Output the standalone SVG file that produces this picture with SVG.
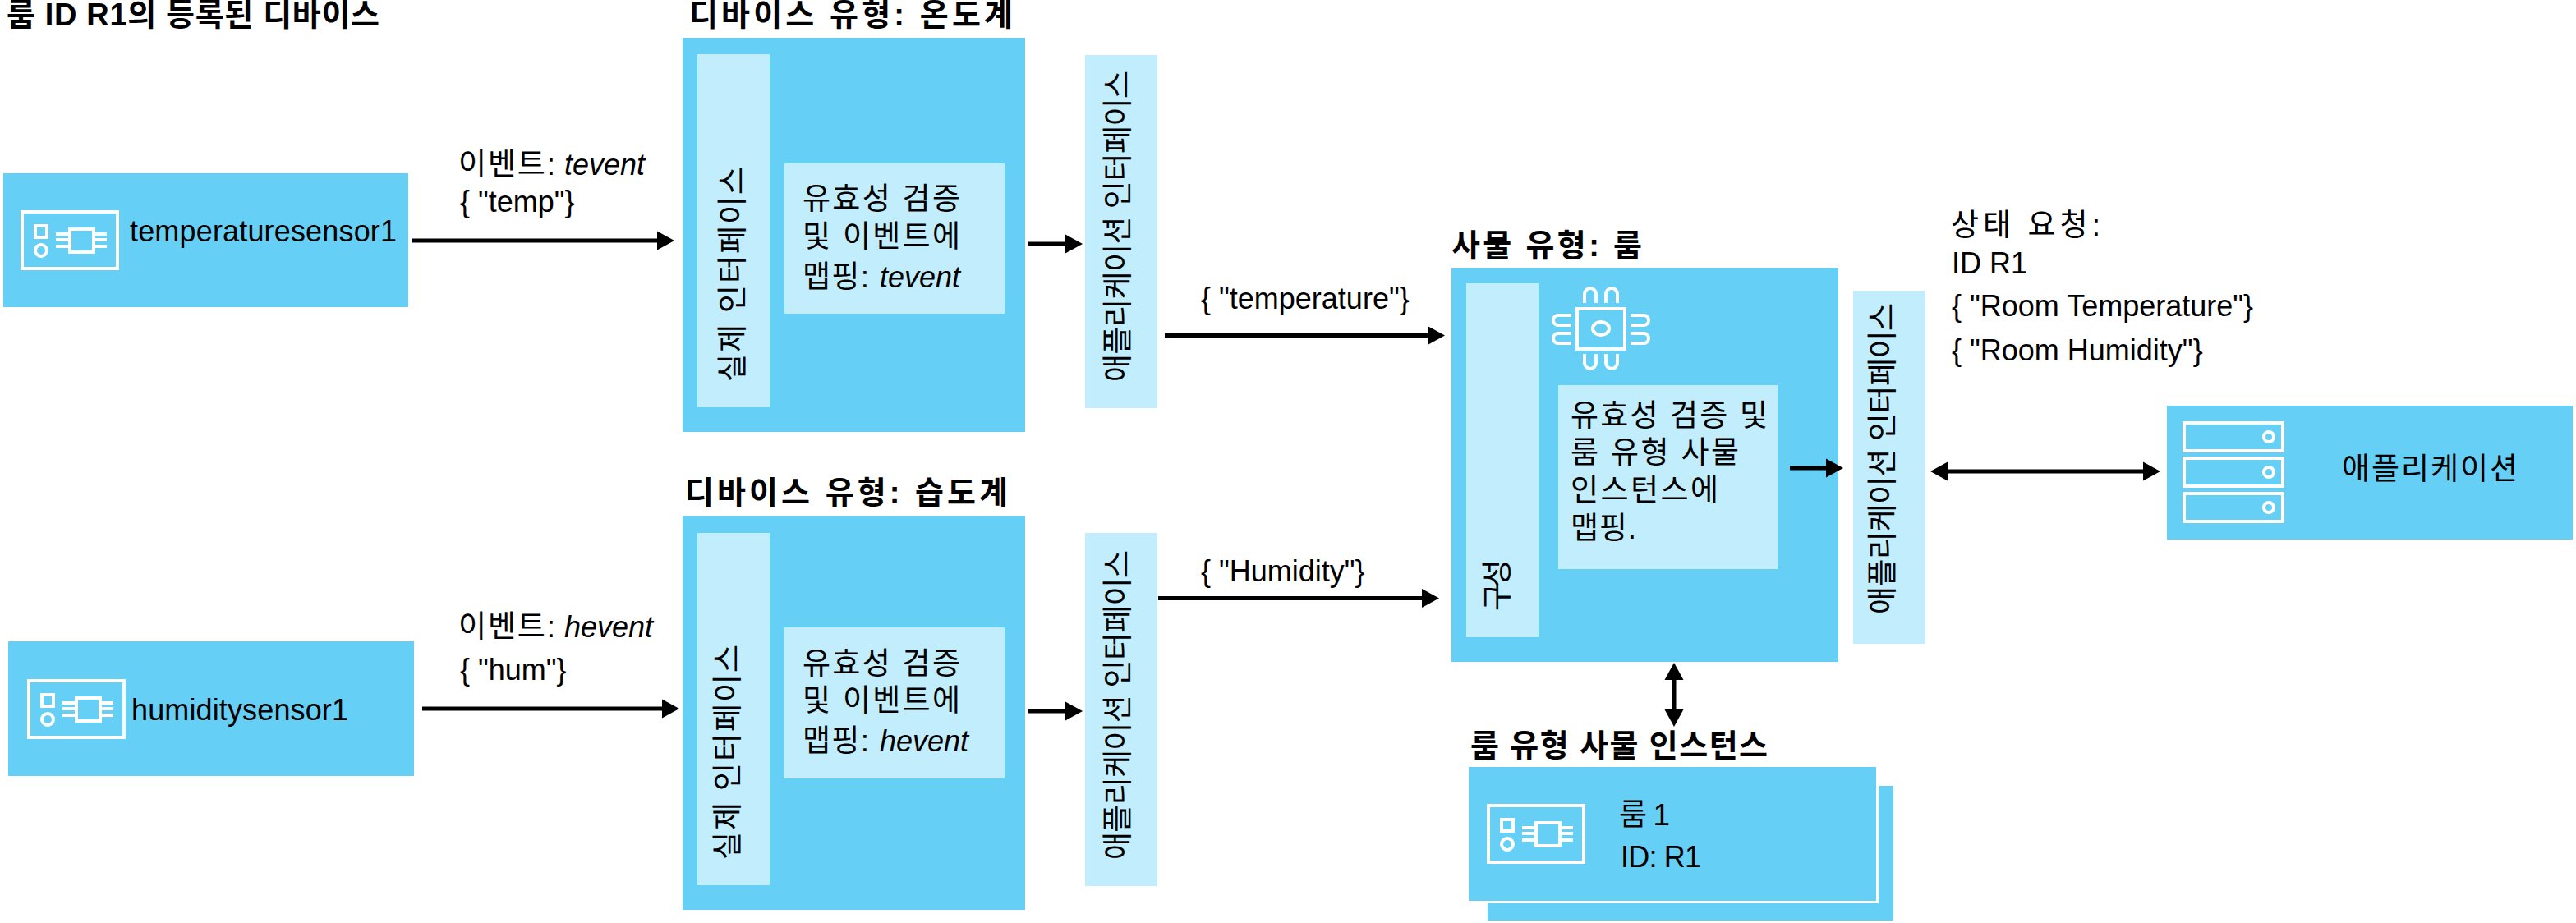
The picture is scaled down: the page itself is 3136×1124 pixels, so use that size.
<svg xmlns="http://www.w3.org/2000/svg" xmlns:xlink="http://www.w3.org/1999/xlink" width="3136" height="1124" viewBox="0 0 3136 1124">
<style>
text{font-family:"Liberation Sans","Noto Sans CJK KR",sans-serif;font-size:36px;fill:#000}
.h{font-weight:700;font-size:38px}
.it{font-style:italic}
.k{font-size:37px}
.b{fill:#66cff6}
.l{fill:#c2edfc}
.i{fill:none;stroke:#fff;stroke-width:4}
.c{fill:none;stroke:#000;stroke-width:5}
</style>
<defs>
<marker id="a" markerUnits="userSpaceOnUse" markerWidth="22" markerHeight="24" refX="11" refY="12" orient="auto-start-reverse"><path d="M0 0.5L21 12L0 23.5Z"/></marker>
<g id="board" class="i">
<rect x="2" y="2" width="116" height="69"/>
<rect x="18" y="19" width="14" height="14"/>
<circle cx="25" cy="49" r="7"/>
<rect x="60" y="23" width="29" height="28"/>
<path d="M43 29H60M43 36H60M43 44H60M89 29H105M89 36H105M89 44H105"/>
</g>
<g id="srv" class="i"><rect x="2" y="2" width="120" height="34"/><circle cx="105" cy="19" r="6"/></g>
</defs>
<text class="h" x="8" y="31" textLength="454">룸 ID R1의 등록된 디바이스</text>
<g id="temperaturesensor1"><rect class="b" x="4" y="211" width="493" height="163"/><use xlink:href="#board" x="25" y="256"/><text x="158" y="294" textLength="325">temperaturesensor1</text></g>
<g id="humiditysensor1"><rect class="b" x="10" y="781" width="494" height="164"/><use xlink:href="#board" x="33" y="827"/><text x="160" y="877" textLength="264">humiditysensor1</text></g>
<g id="label-t"><text x="558" y="213"><tspan class="k" textLength="118">이벤트:</tspan><tspan class="it" x="687">tevent</tspan></text><text x="560" y="258">{ "temp"}</text></g>
<g id="label-h"><text x="558" y="776"><tspan class="k" textLength="118">이벤트:</tspan><tspan class="it" x="687">hevent</tspan></text><text x="560" y="828">{ "hum"}</text></g>
<g id="device-temp">
<text class="h" x="839" y="31" textLength="394">디바이스 유형: 온도계</text>
<rect class="b" x="831" y="46" width="417" height="480"/>
<rect class="l" x="849" y="66" width="88" height="430"/>
<text class="k" transform="translate(905 465) rotate(-90)" textLength="262">실제 인터페이스</text>
<rect class="l" x="955" y="199" width="268" height="183"/>
<text class="k" x="977" y="255" textLength="192">유효성 검증</text><text class="k" x="977" y="301" textLength="192">및 이벤트에</text><text x="977" y="350"><tspan class="k" textLength="81">맵핑:</tspan><tspan class="it" x="1071">tevent</tspan></text>
</g>
<g id="appif-temp"><rect class="l" x="1321" y="67" width="88" height="430"/><text class="k" transform="translate(1374 465) rotate(-90)" textLength="379">애플리케이션 인터페이스</text></g>
<g id="device-hum">
<text class="h" x="834" y="613" textLength="393">디바이스 유형: 습도계</text>
<rect class="b" x="831" y="628" width="417" height="480"/>
<rect class="l" x="849" y="649" width="88" height="429"/>
<text class="k" transform="translate(899 1047) rotate(-90)" textLength="262">실제 인터페이스</text>
<rect class="l" x="955" y="764" width="268" height="184"/>
<text class="k" x="977" y="821" textLength="192">유효성 검증</text><text class="k" x="977" y="866" textLength="192">및 이벤트에</text><text x="977" y="915"><tspan class="k" textLength="81">맵핑:</tspan><tspan class="it" x="1071">hevent</tspan></text>
</g>
<g id="appif-hum"><rect class="l" x="1321" y="649" width="88" height="430"/><text class="k" transform="translate(1374 1047) rotate(-90)" textLength="377">애플리케이션 인터페이스</text></g>
<text x="1462" y="376">{ "temperature"}</text>
<text x="1462" y="708">{ "Humidity"}</text>
<g id="thing">
<text class="h" x="1767" y="312" textLength="232">사물 유형: 룸</text>
<rect class="b" x="1767" y="326" width="471" height="480"/>
<rect class="l" x="1785" y="345" width="88" height="431"/>
<text class="k" transform="translate(1836 744) rotate(-90)" textLength="63">구성</text>
<g class="i"><rect x="1920" y="376" width="58" height="49"/><ellipse cx="1949" cy="400" rx="10" ry="8"/>
<path d="M1929 369V358a7 7 0 0 1 14 0V369M1955 369V358a7 7 0 0 1 14 0V369M1929 431V442a7 7 0 0 0 14 0V431M1955 431V442a7 7 0 0 0 14 0V431M1913 384H1897a6 6 0 0 0 0 12H1913M1913 406H1897a6 6 0 0 0 0 12H1913M1985 384H2001a6 6 0 0 1 0 12H1985M1985 406H2001a6 6 0 0 1 0 12H1985"/></g>
<rect class="l" x="1897" y="469" width="267" height="224"/>
<text class="k" x="1912" y="519" textLength="240">유효성 검증 및</text><text class="k" x="1912" y="564" textLength="205">룸 유형 사물</text><text class="k" x="1912" y="610" textLength="180">인스턴스에</text><text class="k" x="1912" y="656" textLength="80">맵핑.</text>
</g>
<g id="appif-thing"><rect class="l" x="2256" y="354" width="88" height="430"/><text class="k" transform="translate(2305 748) rotate(-90)" textLength="379">애플리케이션 인터페이스</text></g>
<g id="label-state"><text class="k" x="2375" y="287" textLength="182">상태 요청:</text><text x="2376" y="333">ID R1</text><text x="2376" y="385">{ "Room Temperature"}</text><text x="2376" y="439">{ "Room Humidity"}</text></g>
<g id="application"><rect class="b" x="2638" y="494" width="494" height="163"/>
<use xlink:href="#srv" x="2657" y="513"/><use xlink:href="#srv" x="2657" y="556"/><use xlink:href="#srv" x="2657" y="599"/>
<text class="k" x="2851" y="584" textLength="214">애플리케이션</text></g>
<g id="instances">
<text class="h" x="1790" y="921" textLength="362">룸 유형 사물 인스턴스</text>
<rect class="b" x="1811" y="957" width="494" height="164"/>
<rect class="b" x="1786.500" y="932.500" width="499" height="166" stroke="#fff" stroke-width="3"/>
<use xlink:href="#board" x="1810" y="979"/>
<text class="k" x="1971" y="1005" textLength="62">룸 1</text><text x="1973" y="1056" textLength="98">ID: R1</text>
</g>
<g id="connectors">
<path class="c" d="M502 293H811" marker-end="url(#a)"/>
<path class="c" d="M514 863H817" marker-end="url(#a)"/>
<path class="c" d="M1252 297H1308" marker-end="url(#a)"/>
<path class="c" d="M1252 866H1308" marker-end="url(#a)"/>
<path class="c" d="M1418 408.500H1749" marker-end="url(#a)"/>
<path class="c" d="M1410 728.500H1742" marker-end="url(#a)"/>
<path class="c" d="M2179 570H2234" marker-end="url(#a)"/>
<path class="c" d="M2360 574H2620" marker-start="url(#a)" marker-end="url(#a)"/>
<path class="c" d="M2038 817V875" marker-start="url(#a)" marker-end="url(#a)"/>
</g>
</svg>
